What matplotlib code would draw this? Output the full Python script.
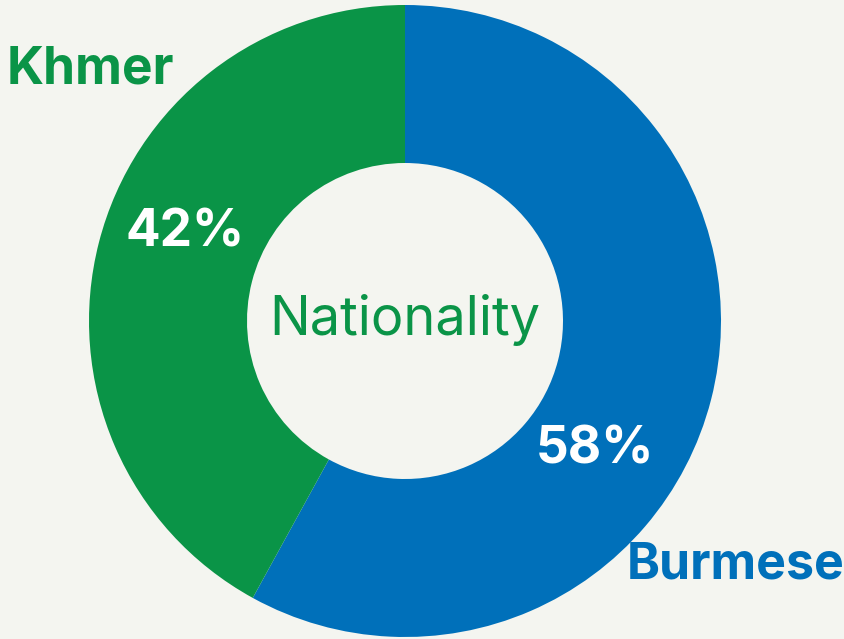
import matplotlib.pyplot as plt

# nationality split
labels = ["Burmese", "Khmer"]
shares = [58, 42]
colors = ["#0070BA", "#0A9447"]

fig = plt.figure(figsize=(8.45, 6.39), dpi=100)
fig.patch.set_facecolor("#F4F5F0")
ax = fig.add_axes([0, 0, 1, 1])

cx, cy, r = 405, 318, 316
ax.pie(shares, colors=colors, startangle=90, counterclock=False,
       center=(cx, cy), radius=r, frame=True,
       wedgeprops=dict(width=r - 158, linewidth=0))
ax.set_xlim(0, 845)
ax.set_ylim(0, 639)
ax.set_aspect("equal")
ax.axis("off")

font = "Inter"
ax.text(cx, cy + 1, "Nationality", ha="center", va="center",
        fontsize=39, color=colors[1], family=font)

ax.text(185, 639 - 233, f"{shares[1]}%", ha="center", va="center",
        fontsize=37, color="white", weight="bold", family=font)
ax.text(595, 639 - 450, f"{shares[0]}%", ha="center", va="center",
        fontsize=37, color="white", weight="bold", family=font)

ax.text(7, 639 - 70, labels[1], ha="left", va="center",
        fontsize=37, color=colors[1], weight="bold", family=font)
ax.text(845, 639 - 565, labels[0], ha="right", va="center",
        fontsize=36, color=colors[0], weight="bold", family=font)

fig.savefig("out.png", dpi=100, facecolor=fig.get_facecolor())
